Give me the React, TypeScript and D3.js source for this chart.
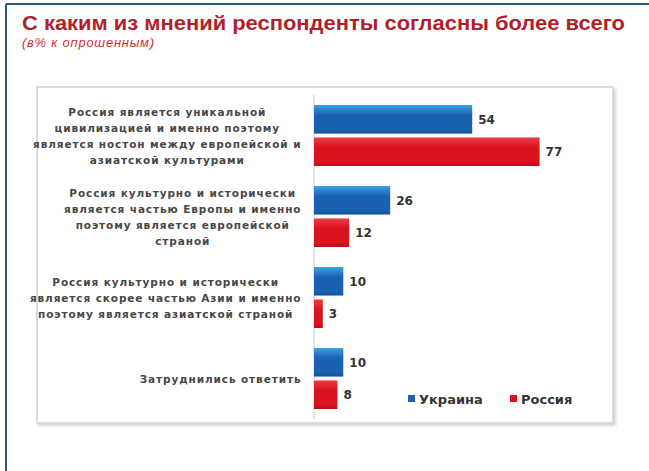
import React from "react";
import * as d3 from "d3";

const categories = ["c1", "c2", "c3", "c4"];
const categoryLines = [
  ["Россия является уникальной", "цивилизацией и именно поэтому", "является ностон между европейской и", "азиатской культурами"],
  ["Россия культурно и исторически", "является частью Европы и именно", "поэтому является европейской", "страной"],
  ["Россия культурно и исторически", "является скорее частью Азии и именно", "поэтому является азиатской страной"],
  ["Затруднились ответить"],
];
const seriesNames = ["Украина", "Россия"];
const ukraine = [54, 26, 10, 10];
const russia = [77, 12, 3, 8];
const seriesColors = [
  ["#3aa3e2", "#1a62b0", "#12519a"],
  ["#ec3b46", "#d9141f", "#b8101a"],
];

const W = 649;
const H = 471;
const labelSize = 10.5;
const labelFont = `bold ${labelSize}px 'DejaVu Sans'`;
const labelLS = 0.9;

function measure(text: string, font: string): number {
  const c = document.createElement("canvas");
  const ctx = c.getContext("2d")!;
  ctx.font = font;
  return ctx.measureText(text).width + (text.length - 1) * labelLS;
}

export default function App() {
  const x = d3.scaleLinear().domain([0, 100]).range([314, 607]);
  const y = d3.scaleBand<string>().domain(categories).range([95, 419]).paddingInner(0.247).paddingOuter(0.1235);
  const sub = d3.scaleBand<number>().domain([0, 1]).range([0, y.bandwidth()]).paddingInner(0.12);
  const series = [ukraine, russia];
  const labelRight = 301;
  const lineH = 16;

  return (
    <svg width={W} height={H} style={{ position: "absolute", left: 0, top: 0, background: "#fff" }}>
      <defs>
        {seriesColors.map((c, i) => (
          <linearGradient key={i} id={`g${i}`} x1="0" y1="0" x2="0" y2="1">
            <stop offset="0" stopColor={c[0]} />
            <stop offset="0.35" stopColor={c[1]} />
            <stop offset="0.85" stopColor={c[1]} />
            <stop offset="1" stopColor={c[2]} />
          </linearGradient>
        ))}
        <filter id="sh" x="-5%" y="-5%" width="110%" height="110%">
          <feDropShadow dx="2" dy="2" stdDeviation="1.5" floodColor="#000" floodOpacity="0.18" />
        </filter>
      </defs>
      {/* outer frame */}
      <line x1={6} y1={4} x2={W} y2={4} stroke="#2b5a78" strokeWidth={2} />
      <line x1={6} y1={4} x2={6} y2={H} stroke="#2b5a78" strokeWidth={2} />
      {/* title */}
      <text x={22} y={30} fontFamily="'Liberation Sans', Arial, sans-serif" fontWeight="bold" fontSize={21} fill="#b01f2a" textLength={603} lengthAdjust="spacingAndGlyphs">
        С каким из мнений респонденты согласны более всего
      </text>
      <text x={22} y={47} fontFamily="'Liberation Sans', Arial, sans-serif" fontStyle="italic" fontSize={13} fill="#d23030" textLength={132} lengthAdjust="spacing">
        (в% к опрошенным)
      </text>
      {/* chart box */}
      <rect x={37} y={87} width={576} height={336} fill="#fff" stroke="#cfcfcf" strokeWidth={1.5} filter="url(#sh)" />
      {/* axis */}
      <line x1={x(0)} y1={y.range()[0]} x2={x(0)} y2={y.range()[1]} stroke="#c8c8c8" strokeWidth={1} />
      {/* category labels */}
      {categories.map((c, ci) => {
        const lines = categoryLines[ci];
        const maxW = d3.max(lines, (l) => measure(l, labelFont)) || 0;
        const cx = labelRight - maxW / 2;
        const cy = (y(c) || 0) + y.bandwidth() / 2;
        const top = cy - ((lines.length - 1) * lineH) / 2 + 4;
        return (
          <text key={c} fontFamily="'DejaVu Sans', sans-serif" fontWeight="bold" fontSize={labelSize} letterSpacing={labelLS} fill="#474747" textAnchor="middle">
            {lines.map((l, li) => (
              <tspan key={li} x={cx} y={top + li * lineH}>
                {l}
              </tspan>
            ))}
          </text>
        );
      })}
      {/* bars */}
      {categories.map((c, ci) =>
        series.map((s, si) => {
          const by = (y(c) || 0) + (sub(si) || 0);
          return (
            <g key={c + si}>
              <rect x={x(0)} y={by} width={x(s[ci]) - x(0)} height={sub.bandwidth()} fill={`url(#g${si})`} />
              <text x={x(s[ci]) + 6} y={by + sub.bandwidth() / 2 + 4.5} fontFamily="'DejaVu Sans', sans-serif" fontWeight="bold" fontSize={12} fill="#333">
                {s[ci]}
              </text>
            </g>
          );
        })
      )}
      {/* legend */}
      {seriesNames.map((n, i) => {
        const lx = [408, 510][i];
        return (
          <g key={n}>
            <rect x={lx} y={395} width={7} height={7} fill={seriesColors[i][1]} />
            <text x={lx + 11} y={404} fontFamily="'DejaVu Sans', sans-serif" fontWeight="bold" fontSize={13} fill="#333">
              {n}
            </text>
          </g>
        );
      })}
    </svg>
  );
}
